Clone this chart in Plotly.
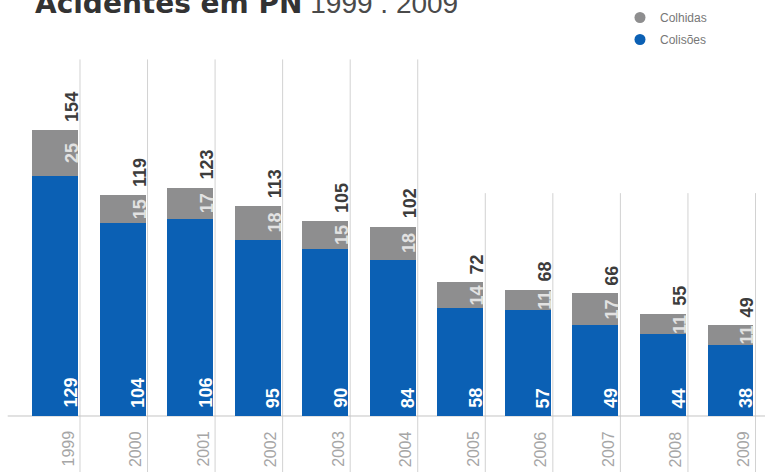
import plotly.graph_objects as go

# Acidentes em passagens de nível, 1999-2009
anos = ["1999", "2000", "2001", "2002", "2003", "2004",
        "2005", "2006", "2007", "2008", "2009"]
colisoes = [129, 104, 106, 95, 90, 84, 58, 57, 49, 44, 38]
colhidas = [25, 15, 17, 18, 15, 18, 14, 11, 17, 11, 11]
totais = [154, 119, 123, 113, 105, 102, 72, 68, 66, 55, 49]

AZUL = "#0b60b4"
CINZA = "#8e8e8f"
GRELHA = "#d2d2d2"

x = list(range(len(anos)))

fig = go.Figure()

fig.add_trace(go.Bar(
    x=x, y=colisoes, name="Colisões", marker=dict(color=AZUL, line=dict(width=0)),
    width=0.68, showlegend=False, hoverinfo="skip"))
fig.add_trace(go.Bar(
    x=x, y=colhidas, name="Colhidas", marker=dict(color=CINZA, line=dict(width=0)),
    width=0.68, showlegend=False, hoverinfo="skip"))

# legend entries drawn as round markers
fig.add_trace(go.Scatter(
    x=[None], y=[None], mode="markers", name="Colhidas", legendgroup="a",
    marker=dict(symbol="circle", size=11, color=CINZA)))
fig.add_trace(go.Scatter(
    x=[None], y=[None], mode="markers", name="Colisões", legendgroup="b",
    marker=dict(symbol="circle", size=11, color=AZUL)))

shapes = []
# vertical separators between years
for i in x:
    topo = 192 if i < 6 else 120
    shapes.append(dict(type="line", xref="x", yref="y", x0=i + 0.37, x1=i + 0.37,
                       y0=-32, y1=topo, line=dict(color=GRELHA, width=1), layer="below"))
# baseline
shapes.append(dict(type="line", xref="x", yref="y", x0=-0.70, x1=10.6, y0=0, y1=0,
                   line=dict(color="#c4c4c4", width=1), layer="below"))

annotations = []
for i in x:
    # total above each bar
    annotations.append(dict(
        x=i + 0.25, y=totais[i], xref="x", yref="y", text=f"<b>{totais[i]}</b>",
        textangle=-90, showarrow=False, yanchor="bottom", xanchor="center", yshift=6,
        font=dict(family="Liberation Sans, Arial, sans-serif", size=18, color="#3c3c3c")))
    # colhidas value, centred in the grey segment
    annotations.append(dict(
        x=i + 0.25, y=colisoes[i] + colhidas[i] / 2, xref="x", yref="y",
        text=f"<b>{colhidas[i]}</b>", textangle=-90, showarrow=False,
        yanchor="middle", xanchor="center",
        font=dict(family="Liberation Sans, Arial, sans-serif", size=18, color="#e2e2e2")))
    # colisoes value at the foot of the blue segment
    annotations.append(dict(
        x=i + 0.23, y=0, xref="x", yref="y", text=f"<b>{colisoes[i]}</b>",
        textangle=-90, showarrow=False, yanchor="bottom", xanchor="center", yshift=6,
        font=dict(family="Liberation Sans, Arial, sans-serif", size=18, color="#ffffff")))
    # year label under the baseline
    annotations.append(dict(
        x=i + 0.2, y=0, xref="x", yref="y", text=anos[i],
        textangle=-90, showarrow=False, yanchor="top", xanchor="center", yshift=-13,
        font=dict(family="Liberation Sans, Arial, sans-serif", size=16, color="#a6a6a6")))

# title
annotations.append(dict(
    x=33 / 765, y=1, xref="paper", yref="paper", xanchor="left", yanchor="middle",
    yshift=-3, showarrow=False,
    text=("<span style='font-family:DejaVu Sans;color:#333333'><b>Acidentes em PN</b></span>"
          " 1999 . 2009"),
    font=dict(family="Liberation Sans, Arial, sans-serif", size=28, color="#4a4a4a")))

fig.update_layout(
    width=765, height=472,
    margin=dict(l=0, r=0, t=0, b=0),
    paper_bgcolor="white", plot_bgcolor="white",
    barmode="stack", bargap=0,
    xaxis=dict(range=[-0.8142, 10.5107], visible=False, fixedrange=True),
    yaxis=dict(range=[-30.16, 224.0], visible=False, fixedrange=True),
    shapes=shapes, annotations=annotations,
    legend=dict(x=620 / 765, y=1 - 3 / 472, xanchor="left", yanchor="top",
                font=dict(family="Liberation Sans, Arial, sans-serif", size=12, color="#777777"),
                bgcolor="rgba(0,0,0,0)", tracegroupgap=3, itemwidth=30),
    showlegend=True,
)

fig.write_html("out.html")
